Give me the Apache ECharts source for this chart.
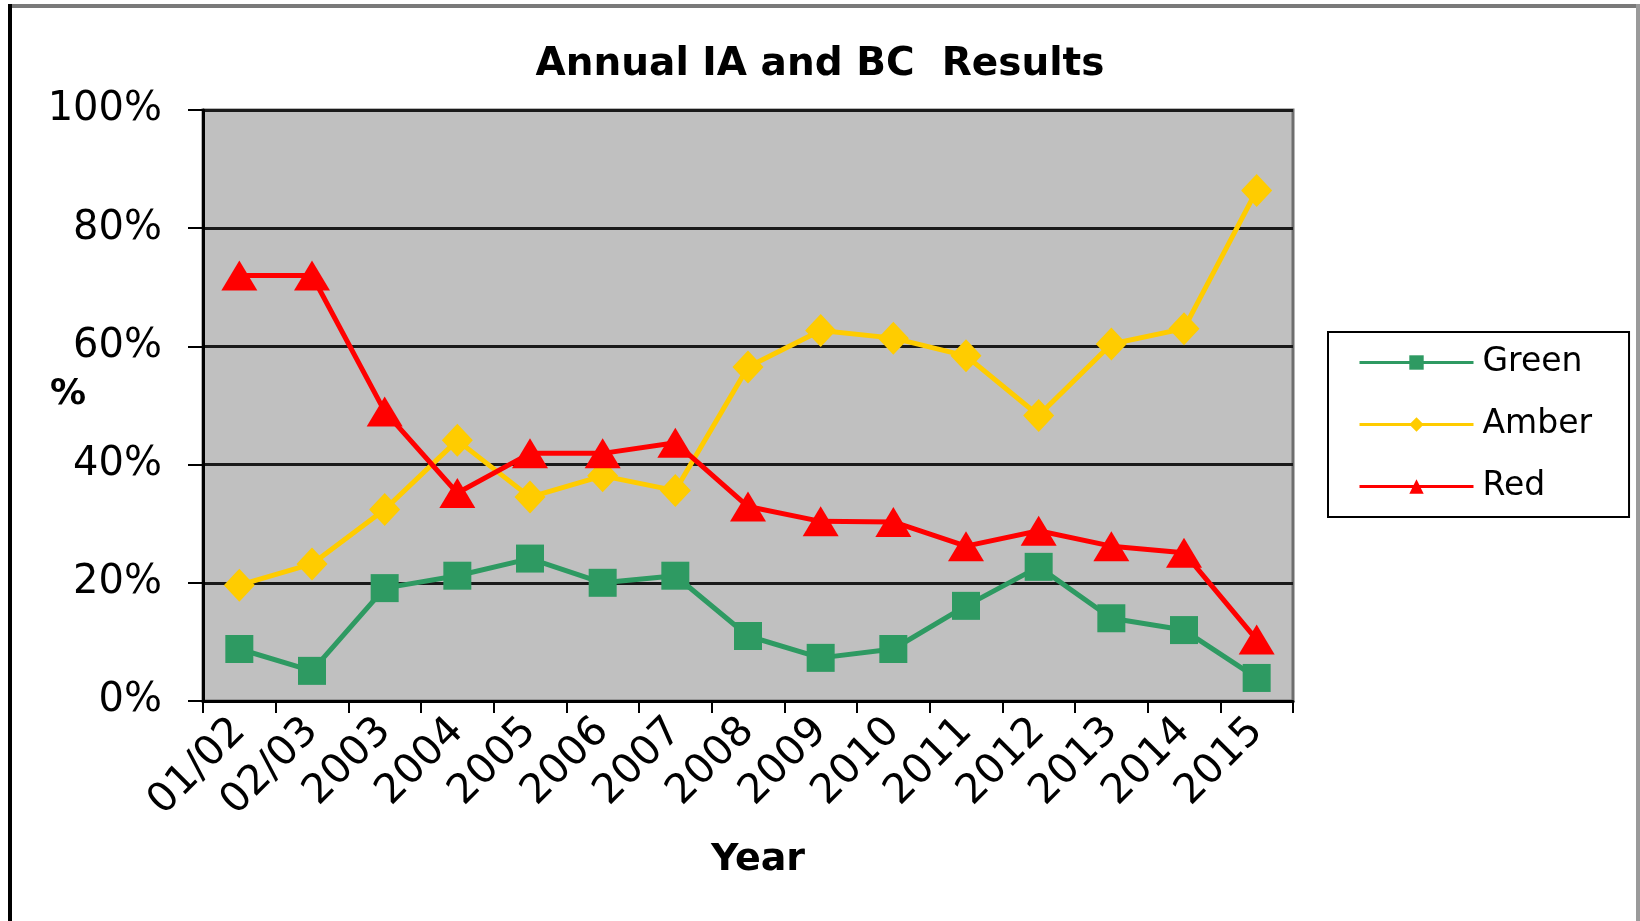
<!DOCTYPE html>
<html>
<head>
<meta charset="utf-8">
<script src="https://cdn.jsdelivr.net/npm/echarts@6/dist/echarts.min.js"></script>
<style>
html,body{margin:0;padding:0;background:#fff;}
#chart{width:1640px;height:921px;}
</style>
</head>
<body>
<div id="chart"></div>
<script>
const categories = ['01/02','02/03','2003','2004','2005','2006','2007','2008','2009','2010','2011','2012','2013','2014','2015'];
const greenValues = [8.8, 5.1, 19.1, 21.2, 24.1, 20.0, 21.2, 11.0, 7.3, 8.8, 16.1, 22.7, 14.0, 12.0, 3.9];
const amberValues = [19.6, 23.2, 32.4, 44.1, 34.5, 38.1, 35.6, 56.5, 62.7, 61.4, 58.4, 48.3, 60.4, 63.0, 86.4];
const redValues = [72.0, 72.0, 49.0, 35.2, 41.9, 41.9, 43.7, 32.9, 30.4, 30.3, 26.2, 28.8, 26.2, 25.1, 10.4];
const yTicks = [0, 20, 40, 60, 80, 100];

const chart = echarts.init(document.getElementById('chart'), null, {renderer: 'canvas'});
const FONT = 'DejaVu Sans';
chart.setOption({
  animation: false,
  backgroundColor: '#ffffff',
  title: {
    text: 'Annual IA and BC  Results',
    left: 'center',
    top: 40,
    textStyle: {fontFamily: FONT, fontWeight: 'bold', fontSize: 39, color: '#000'}
  },
  legend: {
    orient: 'vertical',
    left: 1328,
    top: 332,
    padding: [14, 37, 14, 30],
    itemGap: 29,
    itemWidth: 114,
    itemHeight: 18,
    borderColor: '#000',
    borderWidth: 2,
    backgroundColor: '#fff',
    lineStyle: {width: 3},
    textStyle: {fontFamily: FONT, fontSize: 33, color: '#000', padding: [0, 0, 0, 4]},
    data: ['Green', 'Amber', 'Red']
  },
  grid: {
    left: 203, right: 347, top: 110, bottom: 220,
    show: true,
    backgroundColor: '#C0C0C0',
    borderColor: '#6e6e6e',
    borderWidth: 3
  },
  xAxis: {
    type: 'category',
    data: categories,
    boundaryGap: true,
    name: 'Year',
    nameLocation: 'middle',
    nameGap: 140,
    nameTextStyle: {fontFamily: FONT, fontWeight: 'bold', fontSize: 38, color: '#000', padding: [0, 0, 0, 20]},
    axisLine: {lineStyle: {color: '#000', width: 3}},
    axisTick: {show: true, length: 12, interval: 0, lineStyle: {color: '#000', width: 2}},
    axisLabel: {interval: 0, rotate: 45, margin: 24, fontFamily: FONT, fontSize: 41, color: '#000', padding: [0, 0, 0, 0]},
    splitLine: {show: false}
  },
  yAxis: {
    type: 'value',
    min: 0, max: 100, interval: 20,
    axisLine: {show: true, lineStyle: {color: '#000', width: 3}},
    axisTick: {show: true, length: 15, lineStyle: {color: '#000', width: 2}},
    axisLabel: {margin: 41, fontFamily: FONT, fontSize: 40, color: '#000',
      formatter: function (v) { return yTicks.indexOf(v) >= 0 ? v + '%' : ''; }},
    splitLine: {show: true, lineStyle: {color: '#1a1a1a', width: 3}}
  },
  series: [
    {
      name: 'Green', type: 'line', data: greenValues,
      symbol: 'rect', symbolSize: 28,
      itemStyle: {color: '#2E9A62'},
      lineStyle: {color: '#2E9A62', width: 5}
    },
    {
      name: 'Amber', type: 'line', data: amberValues,
      symbol: 'diamond', symbolSize: [31, 33],
      itemStyle: {color: '#FFCC00'},
      lineStyle: {color: '#FFCC00', width: 5}
    },
    {
      name: 'Red', type: 'line', data: redValues,
      symbol: 'triangle', symbolSize: [36, 30],
      itemStyle: {color: '#FF0000'},
      lineStyle: {color: '#FF0000', width: 5}
    }
  ],
  graphic: [
    {type: 'rect', shape: {x: 8, y: 4, width: 1632, height: 4}, style: {fill: '#7a7a7a'}, silent: true},
    {type: 'rect', shape: {x: 8, y: 4, width: 4, height: 917}, style: {fill: '#000'}, silent: true},
    {type: 'rect', shape: {x: 1636, y: 4, width: 4, height: 917}, style: {fill: '#9a9a9a'}, silent: true},
    {type: 'text', x: 68, y: 395, silent: true,
      style: {text: '%', fontFamily: FONT, fontWeight: 'bold', fontSize: 36, fill: '#000', align: 'center', verticalAlign: 'middle'}}
  ]
});
</script>
</body>
</html>
